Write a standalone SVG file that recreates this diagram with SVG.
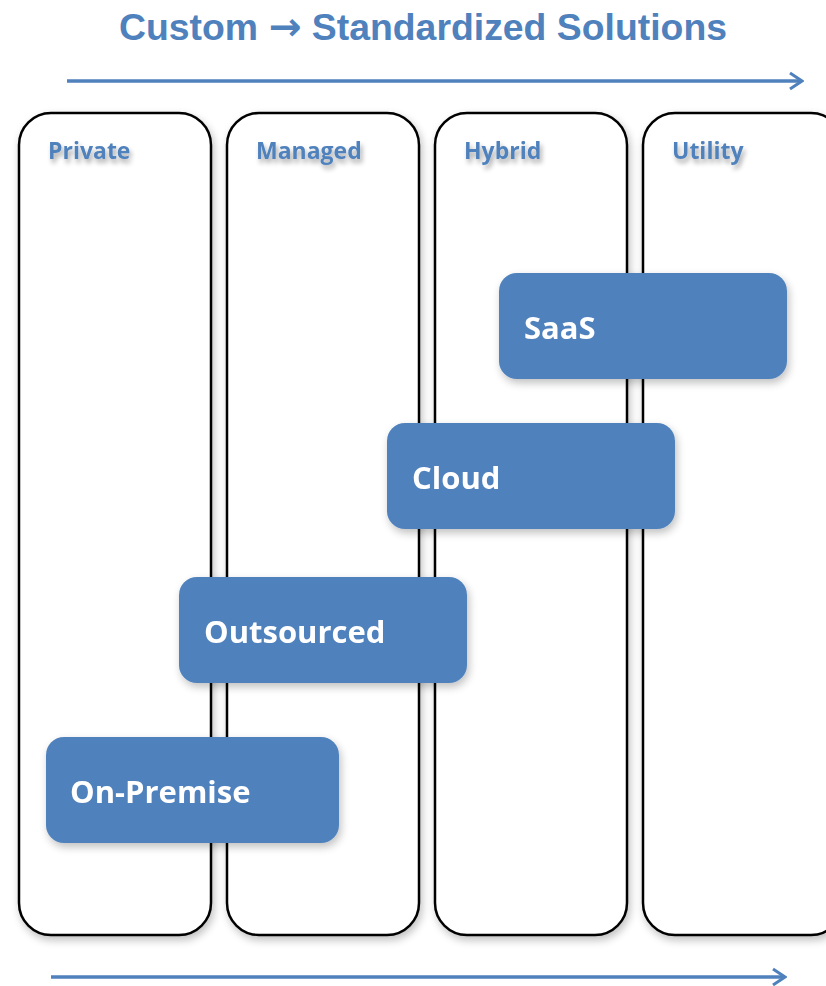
<svg xmlns="http://www.w3.org/2000/svg" width="826" height="986" viewBox="0 0 826 986">
<defs>
<filter id="sh" x="-10%" y="-10%" width="130%" height="130%">
<feGaussianBlur in="SourceAlpha" stdDeviation="4"/>
<feOffset dx="2" dy="4" result="b"/>
<feComponentTransfer><feFuncA type="linear" slope="0.25"/></feComponentTransfer>
<feMerge><feMergeNode/><feMergeNode in="SourceGraphic"/></feMerge>
</filter>
<filter id="tsh" x="-20%" y="-40%" width="150%" height="200%">
<feGaussianBlur in="SourceAlpha" stdDeviation="2.5"/>
<feOffset dx="2" dy="4" result="b"/>
<feComponentTransfer><feFuncA type="linear" slope="0.35"/></feComponentTransfer>
<feMerge><feMergeNode/><feMergeNode in="SourceGraphic"/></feMerge>
</filter>
<marker id="arr" markerWidth="16" markerHeight="20" refX="14" refY="10" orient="auto" markerUnits="userSpaceOnUse">
<path d="M2,2 L14,10 L2,18" fill="none" stroke="#4F81BD" stroke-width="3"/>
</marker>
</defs>
<style>
.col{fill:#fff;stroke:#000;stroke-width:2.5}
.lbl{font-family:"Open Sans","DejaVu Sans",sans-serif;font-weight:bold;font-size:23px;fill:#4F81BD}
.box{fill:#4F81BD}
.btx{font-family:"Open Sans","DejaVu Sans",sans-serif;font-weight:bold;font-size:31px;fill:#fff}
.ar{stroke:#4F81BD;stroke-width:3.5;fill:none}
</style>
<rect width="826" height="986" fill="#fff"/>
<text x="423" y="40" text-anchor="middle" font-family="Liberation Sans, Arial, sans-serif" font-weight="bold" font-size="37" fill="#4F81BD" textLength="608" lengthAdjust="spacingAndGlyphs">Custom <tspan font-family="DejaVu Sans, sans-serif" font-size="39">→</tspan> Standardized Solutions</text>
<g id="connectors">
<line class="ar" x1="67" y1="81" x2="802" y2="81" marker-end="url(#arr)"/>
<line class="ar" x1="51" y1="977" x2="785" y2="977" marker-end="url(#arr)"/>
</g>
<g id="col-private" filter="url(#sh)"><rect class="col" x="19" y="113" width="192" height="822" rx="32"/></g>
<g id="col-managed" filter="url(#sh)"><rect class="col" x="227" y="113" width="192" height="822" rx="32"/></g>
<g id="col-hybrid" filter="url(#sh)"><rect class="col" x="435" y="113" width="192" height="822" rx="32"/></g>
<g id="col-utility" filter="url(#sh)"><rect class="col" x="643" y="113" width="200" height="822" rx="32"/></g>
<g id="labels" filter="url(#tsh)">
<text class="lbl" x="48" y="159">Private</text>
<text class="lbl" x="256" y="159">Managed</text>
<text class="lbl" x="464" y="159">Hybrid</text>
<text class="lbl" x="672" y="159">Utility</text>
</g>
<g id="saas" filter="url(#sh)"><rect class="box" x="499" y="273" width="288" height="106" rx="18"/><text class="btx" x="524" y="339">SaaS</text></g>
<g id="cloud" filter="url(#sh)"><rect class="box" x="387" y="423" width="288" height="106" rx="18"/><text class="btx" x="412" y="489">Cloud</text></g>
<g id="outsourced" filter="url(#sh)"><rect class="box" x="179" y="577" width="288" height="106" rx="18"/><text class="btx" x="204" y="643">Outsourced</text></g>
<g id="on-premise" filter="url(#sh)"><rect class="box" x="46" y="737" width="293" height="106" rx="18"/><text class="btx" x="70" y="803">On-Premise</text></g>
</svg>
